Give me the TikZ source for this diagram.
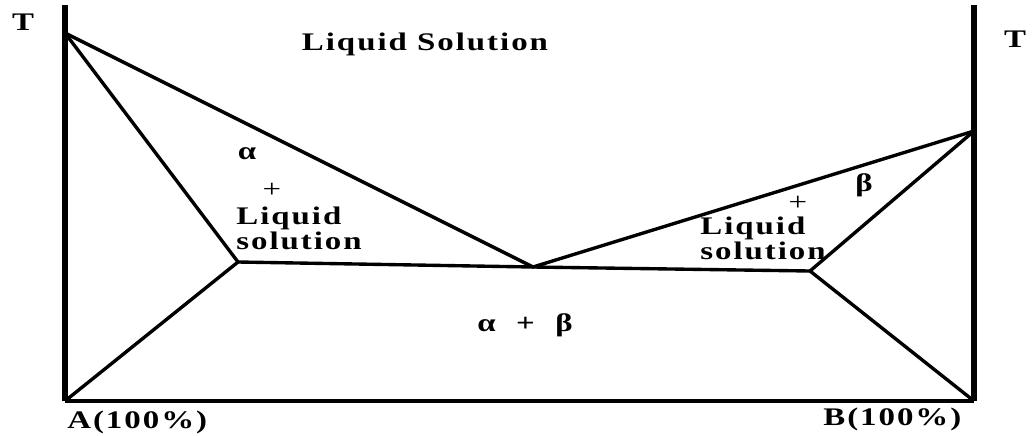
\documentclass[tikz,border=0pt]{standalone}
\usepackage{fontspec}
\setmainfont{Liberation Serif}
\newfontfamily\phasefont{Liberation Serif}[LetterSpace=6]
\usetikzlibrary{positioning}

\begin{document}
\begin{tikzpicture}[x=0.025cm, y=-0.025cm,
  axis/.style={line width=3.8pt},
  curve/.style={line width=2.4pt, line join=round},
  lbl/.style={font=\phasefont\bfseries\fontsize{18}{17.5}\selectfont, inner sep=0pt, xscale=1.3, transform shape},
  sym/.style={font=\phasefont\fontsize{18}{17.5}\selectfont, inner sep=0pt, xscale=1.3, transform shape}]
  \useasboundingbox (0,0) rectangle (1036,435);

  % temperature axes at pure A and pure B
  \coordinate (Atop) at (65,5);
  \coordinate (A) at (65,401);
  \coordinate (Btop) at (974,5);
  \coordinate (B) at (974,401);
  \draw[axis] (Atop) -- (A);
  \draw[axis] (Btop) -- (B);
  \draw[curve] (A) -- (B);

  % melting points, eutectic and solidus corners
  \coordinate (Ta) at (65,33);
  \coordinate (Tb) at (974,131);
  \coordinate (E) at (533,267);
  \coordinate (Sa) at (238,262);
  \coordinate (Sb) at (810,271);

  \draw[curve] (Ta) -- (E) -- (Tb);
  \draw[curve] (Ta) -- (Sa) -- (A);
  \draw[curve] (Tb) -- (Sb) -- (B);
  \draw[curve] (Sa) -- (E) -- (Sb);

  % labels
  \node[lbl] (tleft) at (23,22) {T};
  \node[lbl] (tright) at (1015,39) {T};
  \node[lbl, anchor=base] (liq) at (425,50) {Liquid Solution};

  \node[lbl] (alpha) at (247,154) {α};
  \node[sym] (plusa) at (272,190) {+};
  \node[lbl, anchor=north west, align=left] (liqa) at (236,207) {Liquid\\solution};

  \node[lbl] (beta) at (864,185) {β};
  \node[sym] (plusb) at (798,203) {+};
  \node[lbl, anchor=north west, align=left] (liqb) at (700,217) {Liquid\\solution};

  \node[lbl] (ab) at (525,325) {α \ + \ β};

  \node[lbl, anchor=base west] (pureA) at (67,428) {A(100\%)};
  \node[lbl, anchor=base west] (pureB) at (823,425) {B(100\%)};
\end{tikzpicture}
\end{document}
